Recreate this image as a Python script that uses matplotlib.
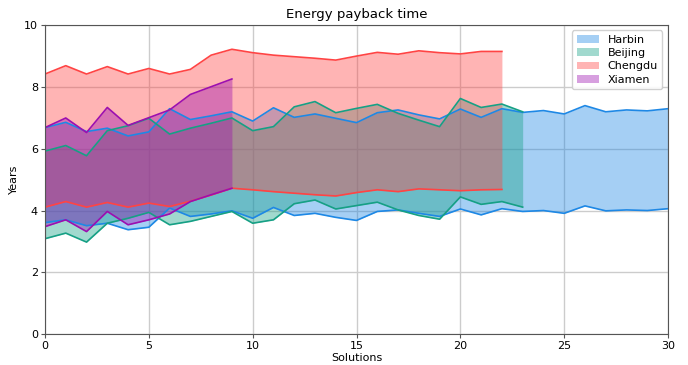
import numpy as np
import matplotlib
matplotlib.use("Agg")
import matplotlib.pyplot as plt

# Energy payback time ranges (years) per solution for four cities
harbin_low = [3.61, 3.70, 3.51, 3.59, 3.38, 3.46, 4.08, 3.81, 3.89, 3.99,
              3.75, 4.10, 3.84, 3.91, 3.78, 3.68, 3.97, 4.02, 3.91, 3.81,
              4.05, 3.86, 4.06, 3.97, 4.00, 3.91, 4.15, 3.99, 4.02, 4.00, 4.06]
harbin_high = [6.68, 6.85, 6.55, 6.66, 6.41, 6.54, 7.29, 6.94, 7.06, 7.19,
               6.89, 7.32, 7.01, 7.12, 6.98, 6.84, 7.16, 7.25, 7.09, 6.96,
               7.28, 7.01, 7.29, 7.17, 7.23, 7.12, 7.39, 7.19, 7.25, 7.22, 7.29]

beijing_low = [3.09, 3.27, 2.98, 3.59, 3.75, 3.94, 3.54, 3.65, 3.81, 3.97,
               3.59, 3.70, 4.22, 4.34, 4.05, 4.16, 4.27, 4.02, 3.84, 3.72,
               4.44, 4.20, 4.29, 4.11]
beijing_high = [5.92, 6.10, 5.77, 6.58, 6.74, 6.98, 6.47, 6.66, 6.82, 6.99,
                6.58, 6.71, 7.35, 7.52, 7.16, 7.30, 7.43, 7.14, 6.92, 6.71,
                7.62, 7.33, 7.44, 7.19]

chengdu_low = [4.11, 4.29, 4.11, 4.26, 4.11, 4.24, 4.13, 4.30, 4.50, 4.72,
               4.67, 4.61, 4.56, 4.51, 4.47, 4.58, 4.67, 4.61, 4.70, 4.67,
               4.64, 4.67, 4.68]
chengdu_high = [8.41, 8.68, 8.41, 8.65, 8.41, 8.59, 8.41, 8.56, 9.02, 9.21,
                9.10, 9.02, 8.97, 8.92, 8.86, 8.99, 9.11, 9.05, 9.16, 9.10,
                9.06, 9.14, 9.14]

xiamen_low = [3.48, 3.70, 3.32, 3.97, 3.54, 3.70, 3.89, 4.29, 4.51, 4.72]
xiamen_high = [6.68, 6.99, 6.52, 7.33, 6.75, 7.00, 7.25, 7.75, 8.00, 8.25]

cities = ["Harbin", "Beijing", "Chengdu", "Xiamen"]
lows = [harbin_low, beijing_low, chengdu_low, xiamen_low]
highs = [harbin_high, beijing_high, chengdu_high, xiamen_high]
colors = ["#1E88E5", "#16A085", "#FF4444", "#9C0FB0"]

fig = plt.figure(figsize=(6.88, 3.65), dpi=100)
ax = fig.add_axes([0.0654, 0.084, 0.9056, 0.848])

for name, lo, hi, c in zip(cities, lows, highs, colors):
    x = np.arange(len(lo))
    ax.fill_between(x, lo, hi, color=c, alpha=0.4, linewidth=0, label=name)
    ax.plot(x, lo, color=c, linewidth=1.2)
    ax.plot(x, hi, color=c, linewidth=1.2)

ax.set_xlim(0, 30)
ax.set_ylim(0, 10)
ax.set_xticks([0, 5, 10, 15, 20, 25, 30])
ax.set_yticks([0, 2, 4, 6, 8, 10])
ax.grid(True, color="#cccccc", linewidth=1.0)
ax.set_axisbelow(True)
ax.tick_params(labelsize=8, length=3, pad=2, color="#555555")
for s in ax.spines.values():
    s.set_color("#555555")
ax.set_title("Energy payback time", fontsize=9.5, pad=5)
ax.set_xlabel("Solutions", fontsize=8, labelpad=1)
ax.set_ylabel("Years", fontsize=8, labelpad=4)
ax.legend(loc="upper right", fontsize=8, framealpha=0.9,
          handlelength=2.0, borderpad=0.4, labelspacing=0.3)

fig.savefig("out.png", dpi=100)
